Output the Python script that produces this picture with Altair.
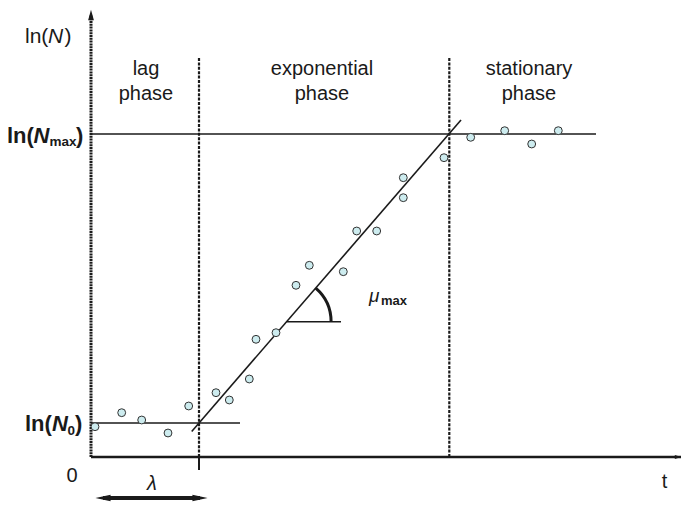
import altair as alt
import pandas as pd

# ---- data (time t in arbitrary units, ln(N) in arbitrary units) ----
obs_t = [0.4, 3.07, 5.07, 7.7, 9.77, 12.5, 13.83, 15.83, 16.5, 18.5, 20.5,
         21.83, 25.23, 26.57, 28.57, 31.23, 31.23, 35.3, 37.97, 41.37, 44.07, 46.73]
obs_lnN = [3.03, 4.43, 3.7, 2.4, 5.1, 6.43, 5.7, 7.8, 11.77, 12.43, 17.17,
           19.17, 18.53, 22.6, 22.6, 25.93, 27.93, 29.93, 31.97, 32.63, 31.3, 32.63]

lag_time = 10.8          # lambda
exp_end = 35.83          # end of exponential phase
ln_N0 = 3.4
ln_Nmax = 32.3
lag_line_end = 14.9
stat_line_end = 50.5
fit_t = [10.07, 37.0]
fit_lnN = [2.56, 33.69]
angle_t = [19.56, 25.0]
angle_lnN = 13.53
t_axis_end = 59.0
y_axis_end = 44.2
lam_arrow = [1.2, 10.9]
lam_arrow_y = -4.1

XS = alt.Scale(domain=[-8.3, 59.2], nice=False, zero=False)
YS = alt.Scale(domain=[-4.5, 44.9], nice=False, zero=False)
FONT = "Liberation Sans"
INK = "#1a1a1a"


def X(f="x"):
    return alt.X(f"{f}:Q", scale=XS, axis=None)


def Y(f="y"):
    return alt.Y(f"{f}:Q", scale=YS, axis=None)


# solid segments: x, x2, y, y2, width
seg = pd.DataFrame([
    [0, t_axis_end, 0, 0, 2.5],
    [0, lag_line_end, ln_N0, ln_N0, 1.6],
    [0, stat_line_end, ln_Nmax, ln_Nmax, 1.6],
    [fit_t[0], fit_t[1], fit_lnN[0], fit_lnN[1], 1.6],
    [angle_t[0], angle_t[1], angle_lnN, angle_lnN, 1.6],
    [lag_time, lag_time, -1.3, 0, 2.0],
    [lam_arrow[0], lam_arrow[1], lam_arrow_y, lam_arrow_y, 4.0],
], columns=["x", "x2", "y", "y2", "w"])

solid = alt.Chart(seg).mark_rule(color=INK).encode(
    x=X(), x2="x2:Q", y=Y(), y2="y2:Q",
    strokeWidth=alt.StrokeWidth("w:Q", scale=None))

dash_df = pd.DataFrame({"x": [lag_time, exp_end], "y": [0, 0], "y2": [40.0, 39.9]})
dashed = alt.Chart(dash_df).mark_rule(color=INK, strokeWidth=2.2, strokeDash=[3, 1.4]).encode(
    x=X(), y=Y(), y2="y2:Q")

yaxis_df = pd.DataFrame({"x": [0], "y": [0], "y2": [y_axis_end]})
yaxis = alt.Chart(yaxis_df).mark_rule(color=INK, strokeWidth=3, strokeDash=[2, 0.8]).encode(
    x=X(), y=Y(), y2="y2:Q")

# arrow heads
heads = pd.DataFrame({
    "x": [0, t_axis_end - 0.3, lam_arrow[0], lam_arrow[1]],
    "y": [y_axis_end, 0, lam_arrow_y, lam_arrow_y],
    "shape": ["M 0 -1 L 0.55 1 L -0.55 1 Z",
              "M 1 0 L -1 -0.6 L -1 0.6 Z",
              "M -1 0 L 1 -0.42 L 1 0.42 Z",
              "M 1 0 L -1 -0.42 L -1 0.42 Z"],
    "size": [110, 40, 230, 230],
})
arrowheads = alt.Chart(heads).mark_point(filled=True, color=INK, opacity=1).encode(
    x=X(), y=Y(), shape=alt.Shape("shape:N", scale=None),
    size=alt.Size("size:Q", scale=None))

# angle arc for mu_max
arc_df = pd.DataFrame({"x": [angle_t[0]], "y": [angle_lnN]})
arc = alt.Chart(arc_df).mark_arc(radius=46, radius2=43, theta=0.714, theta2=1.5708,
                                 color=INK).encode(x=X(), y=Y())

# observations
obs = pd.DataFrame({"x": obs_t, "y": obs_lnN})
points = alt.Chart(obs).mark_point(filled=False, fill="#cdecef", fillOpacity=1,
                                   stroke="#333333", strokeWidth=1, size=62, opacity=1).encode(
    x=X(), y=Y())


def text_layer(rows, size, weight="normal", style="normal", align="left"):
    df = pd.DataFrame(rows, columns=["x", "y", "label"])
    return alt.Chart(df).mark_text(font=FONT, fontSize=size, fontWeight=weight,
                                   fontStyle=style, align=align, baseline="alphabetic",
                                   color=INK).encode(x=X(), y=Y(), text="label:N")


phase_labels = text_layer([
    [5.5, 38.2, "lag"], [5.5, 35.75, "phase"],
    [23.1, 38.2, "exponential"], [23.1, 35.75, "phase"],
    [43.8, 38.2, "stationary"], [43.8, 35.75, "phase"],
    [-1.9, -2.47, "0"], [57.35, -3.1, "t"],
], 20, align="center")

lam_label = text_layer([[6.1, -3.3, "λ"]], 20, style="italic", align="center")

lnN_plain = text_layer([[-6.6, 41.37, "ln("], [-2.65, 41.37, ")"]], 21)
lnN_ital = text_layer([[-4.3, 41.37, "N"]], 21, style="italic")

bold_plain = text_layer([
    [-8.4, 31.4, "ln("], [-1.5, 31.4, ")"],
    [-6.6, 2.6, "ln("], [-1.6, 2.6, ")"],
], 22, weight="bold")
bold_ital = text_layer([[-5.75, 31.4, "N"], [-3.9, 2.6, "N"]], 22, weight="bold", style="italic")
bold_sub = text_layer([[-4.16, 31.1, "max"], [-2.35, 2.2, "0"]], 13.5, weight="bold")

mu = text_layer([[27.8, 15.5, "μ"]], 19, style="italic")
mu_sub = text_layer([[29.0, 15.2, "max"]], 13, weight="bold")

chart = alt.layer(
    dashed, yaxis, solid, arc, arrowheads, points,
    phase_labels, lam_label, lnN_plain, lnN_ital,
    bold_plain, bold_ital, bold_sub, mu, mu_sub,
).properties(
    width=675, height=494,
    autosize=alt.AutoSizeParams(type="none"),
    padding=0,
).configure_view(stroke=None)

chart.save("out.html", embed_options={"renderer": "svg", "actions": False})
